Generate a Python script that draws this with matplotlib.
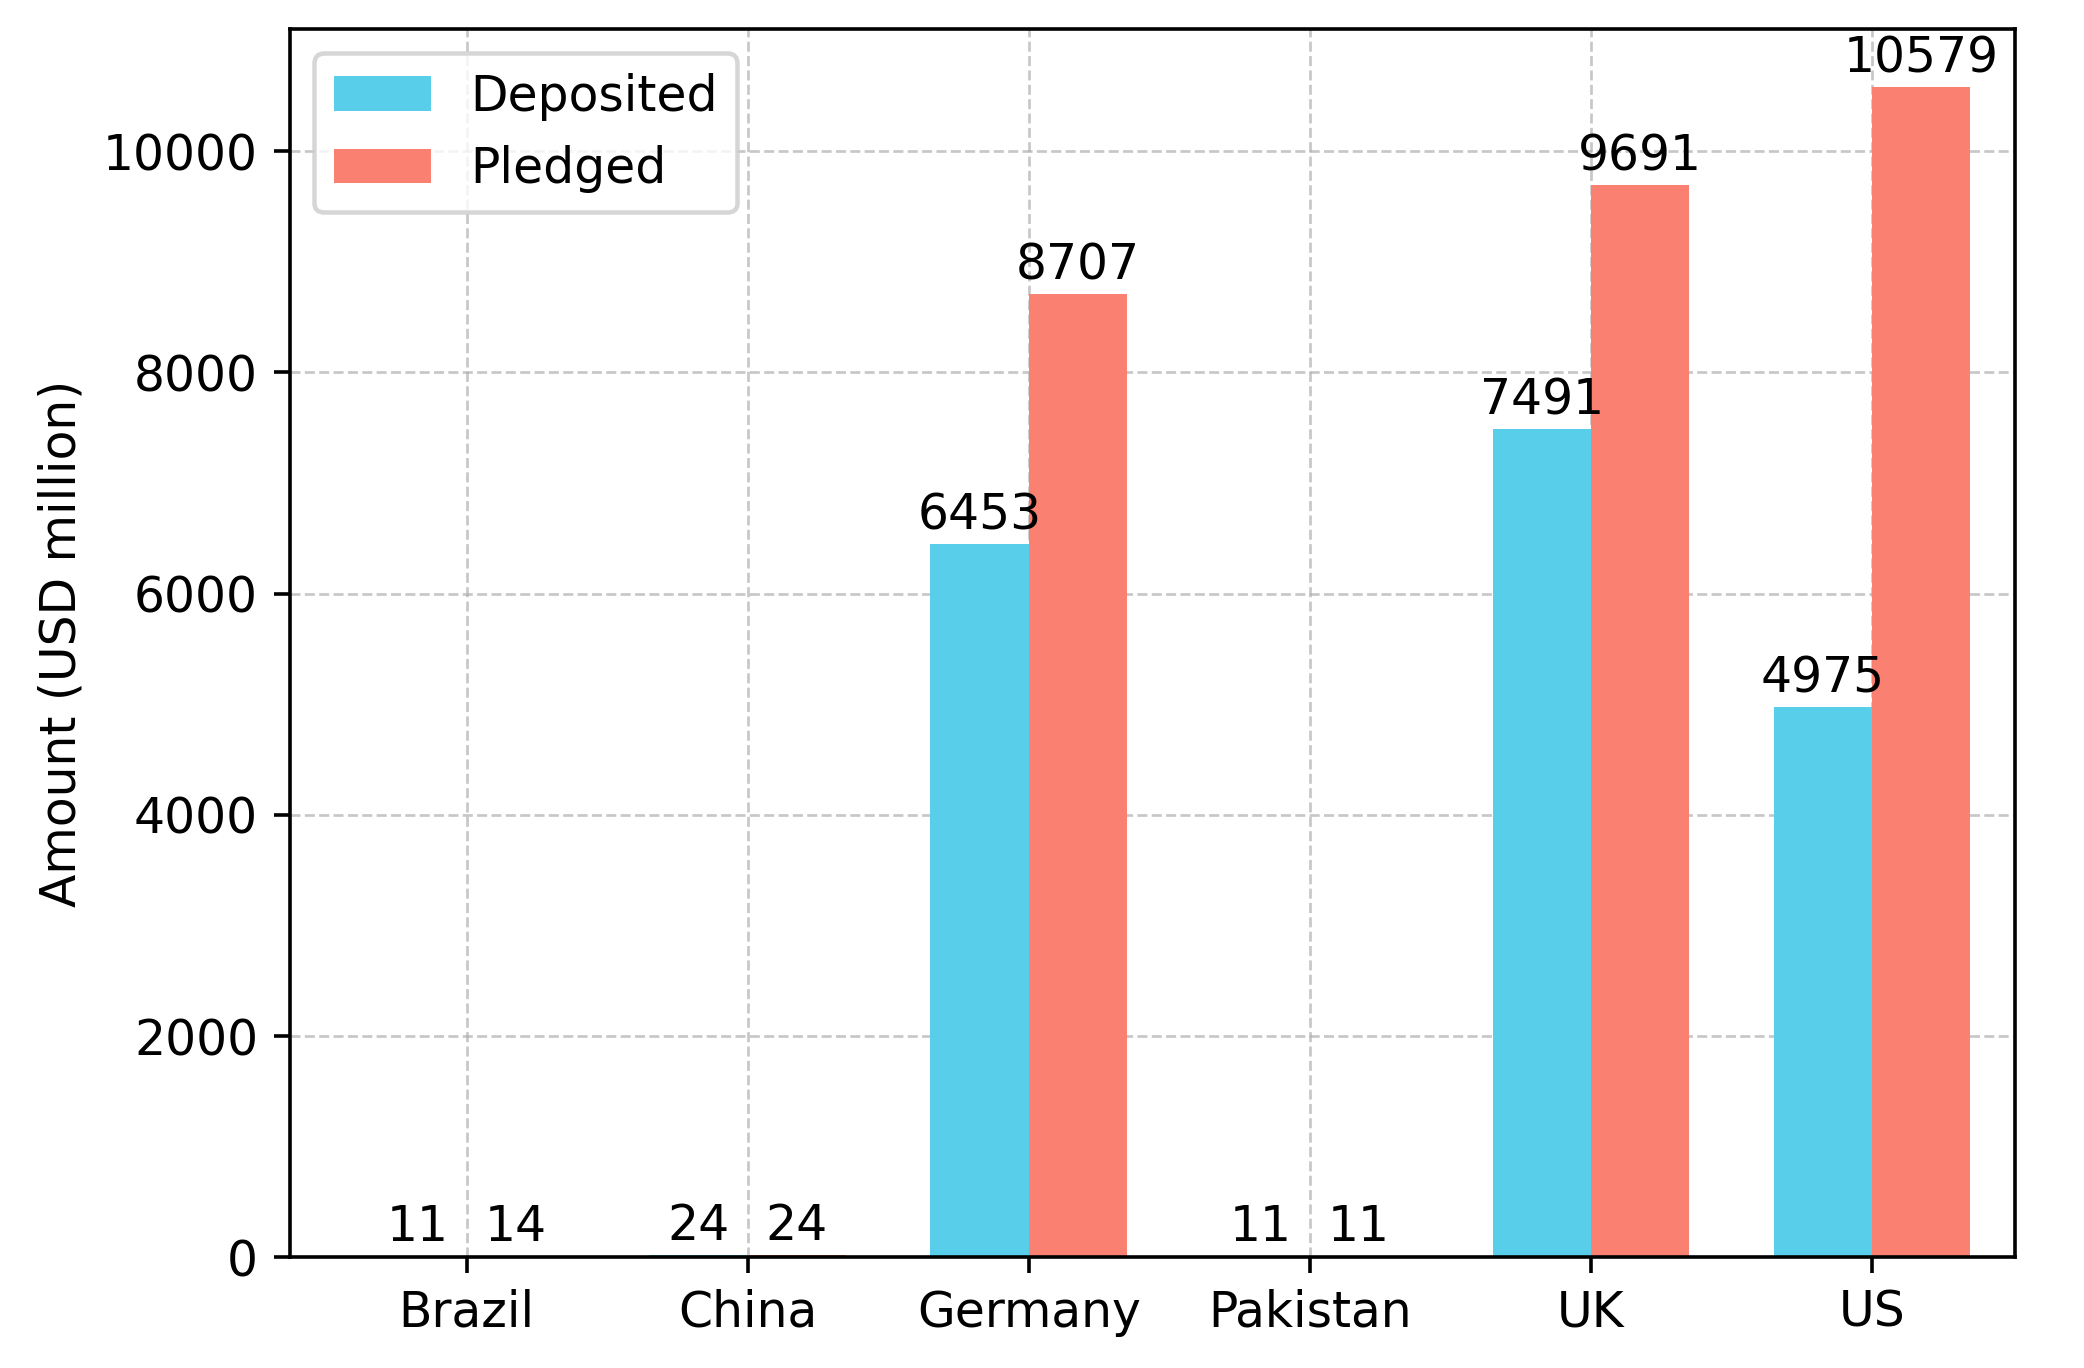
import numpy as np
import matplotlib
matplotlib.use("Agg")
import matplotlib.pyplot as plt

# data
countries = ['Brazil', 'China', 'Germany', 'Pakistan', 'UK', 'US']
deposited = [11, 24, 6453, 11, 7491, 4975]
pledged = [14, 24, 8707, 11, 9691, 10579]

plt.rcParams['font.size'] = 10.8

DPI = 325
fig, ax = plt.subplots(figsize=(2084 / DPI, 1368 / DPI), dpi=DPI)
fig.subplots_adjust(left=0.139, right=0.967, top=0.979, bottom=0.081)

x = np.arange(len(countries))
width = 0.35

bars1 = ax.bar(x - width / 2, deposited, width, label='Deposited', color='#59CEEB')
bars2 = ax.bar(x + width / 2, pledged, width, label='Pledged', color='#FA8072')

# value labels on top of bars
for bars in (bars1, bars2):
    for b in bars:
        h = b.get_height()
        ax.annotate(f'{h}', xy=(b.get_x() + b.get_width() / 2, h),
                    xytext=(0, 1), textcoords='offset points',
                    ha='center', va='bottom')

ax.set_xticks(x)
ax.set_xticklabels(countries)
ax.set_ylabel('Amount (USD million)')
ax.set_xlim(-0.63, 5.51)
ax.grid(True, linestyle='--', linewidth=0.6, alpha=0.7, color='#b0b0b0')
ax.set_axisbelow(True)
ax.legend(loc='upper left')

plt.savefig('out.png', dpi=DPI)
